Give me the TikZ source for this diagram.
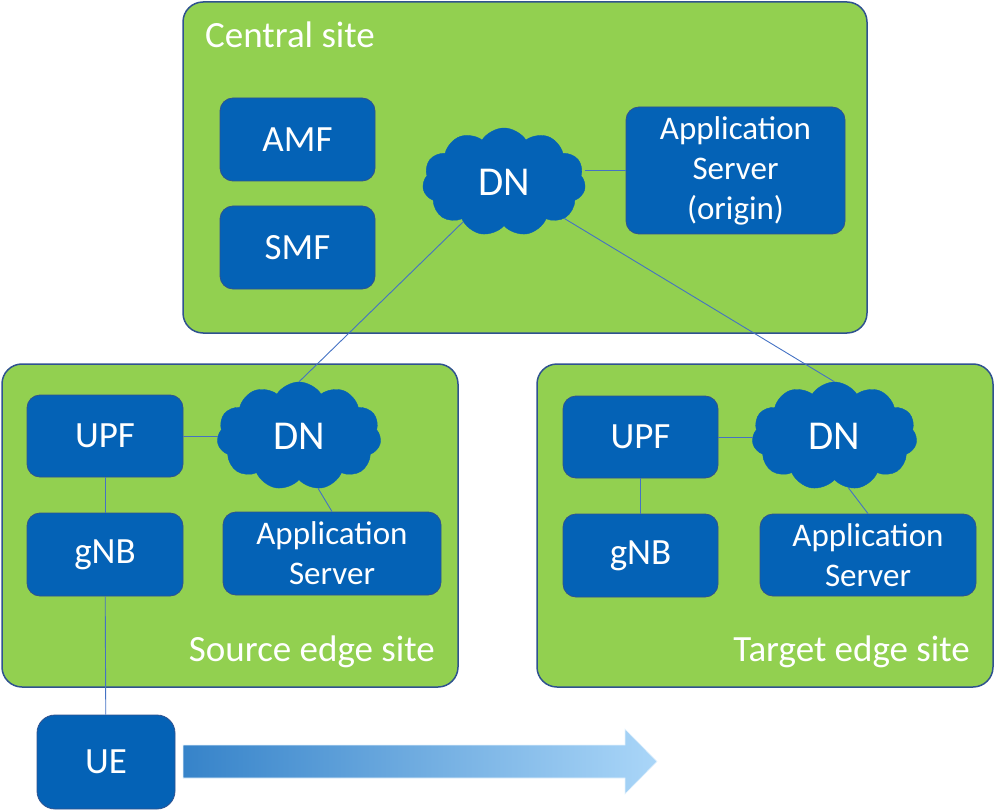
\documentclass[tikz,border=0pt]{standalone}
\usepackage{fontspec}
\setmainfont{Carlito}
\usetikzlibrary{shapes.symbols}
\definecolor{sitegreen}{HTML}{92D050}
\definecolor{siteborder}{HTML}{2F528F}
\definecolor{boxblue}{HTML}{0462B6}
\definecolor{linkblue}{HTML}{4472C4}
\definecolor{arrowdark}{HTML}{3683C9}
\definecolor{arrowlight}{HTML}{AAD6F8}
\tikzset{
  site/.style={draw=siteborder, line width=1.5pt, fill=sitegreen, rounded corners=20pt, inner sep=0pt},
  sitelabel/.style={text=white, font=\fontsize{37}{44}\selectfont, inner sep=0pt},
  nfbox/.style={draw=siteborder, line width=0.8pt, fill=boxblue, rounded corners=13pt, text=white, align=center, font=\fontsize{33}{40}\selectfont, inner sep=0pt},
  nfbig/.style={nfbox, font=\fontsize{37}{44}\selectfont},
  dncloud/.style={cloud, cloud puffs=11, cloud puff arc=115, aspect=1.5, fill=boxblue, draw=boxblue, text=white, font=\fontsize{41}{48}\selectfont, inner sep=0pt},
  link/.style={draw=linkblue, line width=0.9pt},
}
\begin{document}
\begin{tikzpicture}[x=1pt,y=-1pt]
\useasboundingbox (0,0) rectangle (995,810);
% sites
\node[site, minimum width=684pt, minimum height=331pt] (central) at (525,167.5) {};
\node[site, minimum width=456pt, minimum height=323pt] (source) at (230,525.5) {};
\node[site, minimum width=456pt, minimum height=323pt] (target) at (765,525.5) {};
\node[sitelabel, anchor=base west] (centrallbl) at (205,48) {Central site};
\node[sitelabel, anchor=base east] (sourcelbl) at (435,661) {Source edge site};
\node[sitelabel, anchor=base east] (targetlbl) at (970,661) {Target edge site};
% central
\node[nfbig, minimum width=155pt, minimum height=83pt] (amf) at (297.5,139.5) {AMF};
\node[nfbig, minimum width=155pt, minimum height=83pt] (smf) at (297.5,247.5) {SMF};
\node[nfbox, minimum width=219pt, minimum height=127pt] (aso) at (735.5,170.5) {Application\\Server\\(origin)};
\node[dncloud, minimum width=163pt, minimum height=108pt] (dnc) at (504,182) {DN};
% source
\node[nfbig, minimum width=156pt, minimum height=82pt] (upfs) at (105,436) {UPF};
\node[nfbig, minimum width=156pt, minimum height=83pt] (gnbs) at (105,554.5) {gNB};
\node[dncloud, minimum width=164pt, minimum height=108pt] (dns) at (299,436) {DN};
\node[nfbox, minimum width=218pt, minimum height=83pt] (ass) at (332,553.5) {Application\\Server};
% target
\node[nfbig, minimum width=155pt, minimum height=82pt] (upft) at (640.5,437) {UPF};
\node[nfbig, minimum width=155pt, minimum height=83pt] (gnbt) at (640.5,555.5) {gNB};
\node[dncloud, minimum width=165pt, minimum height=108pt] (dnt) at (834.5,436) {DN};
\node[nfbox, minimum width=216pt, minimum height=82pt] (ast) at (868,555) {Application\\Server};
% UE
\node[nfbig, rounded corners=18pt, minimum width=138pt, minimum height=94pt] (ue) at (106,762) {UE};
% links
\draw[link] (aso.west) -- (aso.west -| dnc.east);
\draw[link] (dnc) -- (dns.north);
\draw[link] (dnc) -- (dnt.north);
\draw[link] (upfs.east) -- (upfs.east -| dns.west);
\draw[link] (upfs) -- (gnbs);
\draw[link] (dns.290) -- (ass.north);
\draw[link] (gnbs) -- (ue);
\draw[link] (upft.east) -- (upft.east -| dnt.west);
\draw[link] (upft) -- (gnbt);
\draw[link] (dnt.285) -- (ast.north);
% movement arrow
\coordinate (abl) at (183,745);
\shade[left color=arrowdark, right color=arrowlight, draw=white!70!arrowlight, line width=0.6pt]
  (abl) -- (625,745) -- (625,729) -- (657,761.5) -- (625,794) -- (625,778) -- (183,778) -- cycle;
\end{tikzpicture}
\end{document}
